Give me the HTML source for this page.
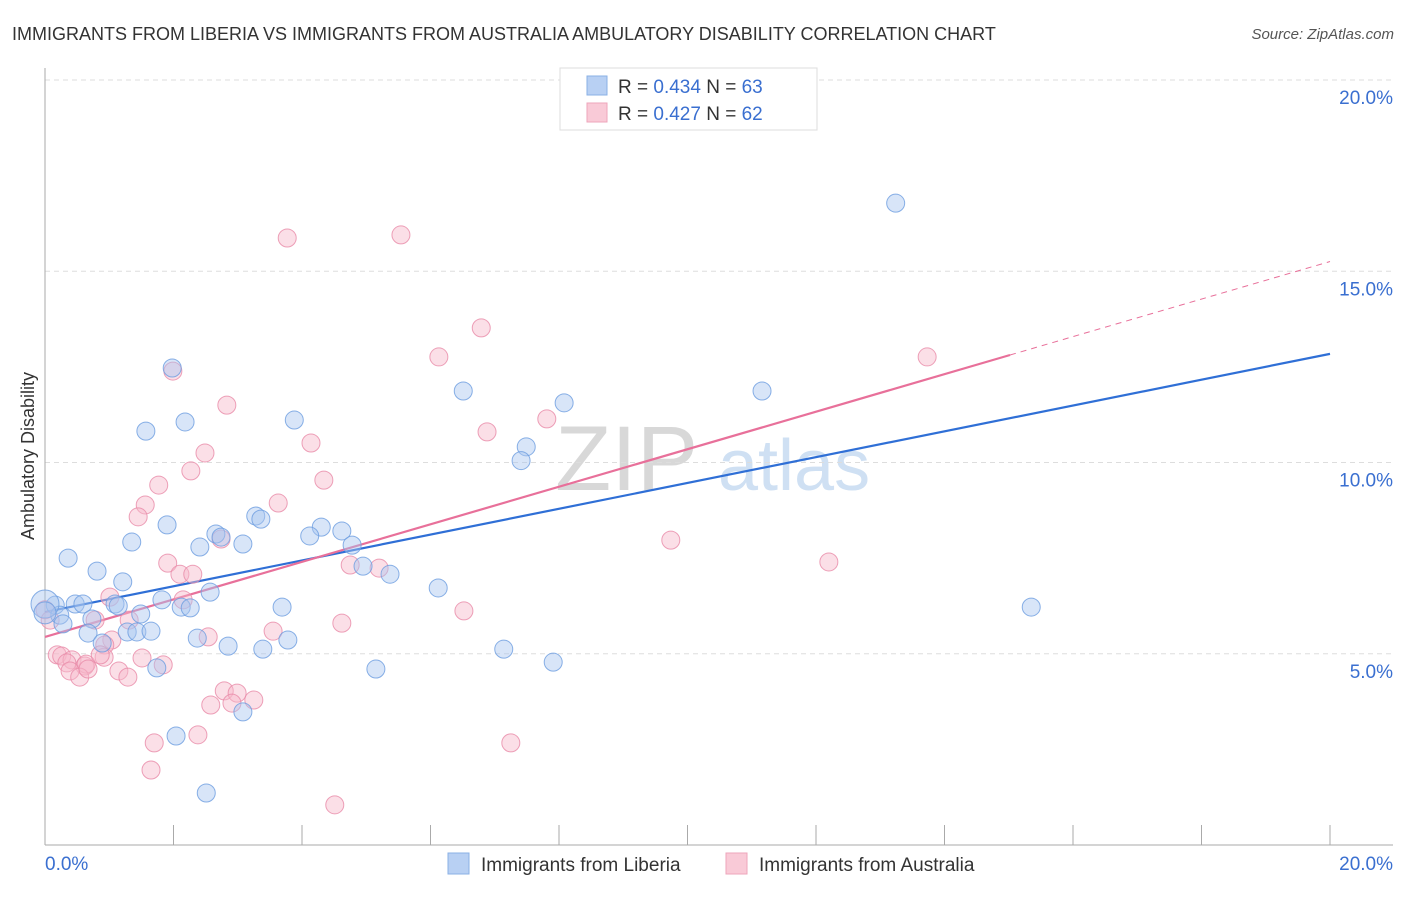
<!DOCTYPE html>
<html><head><meta charset="utf-8"><style>
body{margin:0;background:#fff;font-family:"Liberation Sans",sans-serif;}
svg text{font-family:"Liberation Sans",sans-serif;}
</style></head><body>
<svg id="chart" width="1406" height="892" viewBox="0 0 1406 892" xmlns="http://www.w3.org/2000/svg">
<text x="12" y="40" font-size="18" fill="#333">IMMIGRANTS FROM LIBERIA VS IMMIGRANTS FROM AUSTRALIA AMBULATORY DISABILITY CORRELATION CHART</text>
<text x="1394" y="39" font-size="15" fill="#555" text-anchor="end" font-style="italic">Source: ZipAtlas.com</text>
<g>
<text x="555" y="490" font-size="92" fill="#d8d8d8" font-family="Liberation Serif, serif">ZIP</text>
<text x="718" y="490" font-size="72" fill="#cfe0f3">atlas</text>
</g>
<g id="grid"></g>
<g id="axes"></g>
<g id="lines"></g>
<g id="pts"></g>
<text transform="translate(34,456) rotate(-90)" font-size="18" fill="#333" text-anchor="middle">Ambulatory Disability</text>
<g>
<rect x="560" y="68" width="257" height="62" fill="#fff" stroke="#ddd"/>
<rect x="587" y="76" width="20" height="19" fill="#b8d0f3" stroke="#8ab0e6"/>
<rect x="587" y="103" width="20" height="19" fill="#f9cad7" stroke="#eea5bb"/>
<text x="618" y="93" font-size="19" fill="#333">R = <tspan fill="#3a6fd0">0.434</tspan>   N = <tspan fill="#3a6fd0">63</tspan></text>
<text x="618" y="120" font-size="19" fill="#333">R = <tspan fill="#3a6fd0">0.427</tspan>   N = <tspan fill="#3a6fd0">62</tspan></text>
</g>
<g>
<rect x="448" y="853" width="21" height="21" fill="#b8d0f3" stroke="#8ab0e6"/>
<text x="481" y="871" font-size="19" fill="#333">Immigrants from Liberia</text>
<rect x="726" y="853" width="21" height="21" fill="#f9cad7" stroke="#eea5bb"/>
<text x="759" y="871" font-size="19" fill="#333">Immigrants from Australia</text>
</g>
</svg>
<script>
const yTicks=[5,10,15,20];
const yTickLabels=["5.0%","10.0%","15.0%","20.0%"];
const xTickCount=10;
const blueX=[13.24,1.98,8.08,6.51,11.16,2.18,3.88,1.57,7.49,7.41,3.28,3.36,1.90,4.30,4.62,4.12,2.66,2.74,1.35,2.41,3.08,4.78,0.36,4.95,5.37,0.81,1.21,6.12,2.57,1.82,0.16,0.47,0.59,1.09,1.14,2.12,2.26,3.69,15.35,0.23,1.49,0.28,0.73,0.67,1.28,1.43,1.65,2.37,3.78,2.85,3.39,7.14,7.91,1.74,5.15,3.08,2.04,2.51,0.89,0,0];
const blueY=[16.78,12.47,11.56,11.87,11.87,11.06,11.11,10.82,10.41,10.05,8.60,8.52,8.37,8.31,8.21,8.08,8.13,8.05,7.92,7.79,7.87,7.84,7.50,7.29,7.08,7.16,6.88,6.72,6.61,6.41,6.27,6.30,6.30,6.30,6.25,6.22,6.20,6.22,6.22,6.01,6.04,5.78,5.91,5.54,5.57,5.57,5.59,5.41,5.36,5.20,5.12,5.12,4.78,4.63,4.60,3.48,2.85,1.36,5.28,6.30,6.07];
const blueR=[9,9,9,9,9,9,9,9,9,9,9,9,9,9,9,9,9,9,9,9,9,9,9,9,9,9,9,9,9,9,9,9,9,9,9,9,9,9,9,9,9,9,9,9,9,9,9,9,9,9,9,9,9,9,9,9,9,9,9,14,11];
const pinkX=[3.77,5.54,6.79,6.13,1.99,2.83,7.81,6.88,4.14,2.49,2.27,4.34,1.77,1.56,1.45,3.63,2.74,9.74,12.20,1.91,4.75,5.20,2.10,2.30,1.01,2.15,6.52,0.78,1.31,4.62,3.55,2.54,1.04,0.93,0,0.19,0.26,0.42,0.34,0.62,0.64,0.92,1.51,1.84,1.15,0.39,1.29,0.54,2.79,2.99,2.91,3.25,2.58,2.38,1.70,7.25,1.65,4.51,13.73,0.08,0.67,0.86];
const pinkY=[15.87,15.95,13.52,12.76,12.39,11.50,11.14,10.80,10.51,10.25,9.78,9.54,9.41,8.89,8.58,8.94,8.00,7.97,7.40,7.37,7.32,7.24,7.08,7.08,6.48,6.41,6.12,5.88,5.88,5.80,5.59,5.44,5.36,5.23,6.15,4.97,4.94,4.84,4.76,4.68,4.73,4.91,4.89,4.71,4.55,4.55,4.39,4.39,4.03,3.97,3.71,3.79,3.66,2.88,2.67,2.67,1.96,1.05,12.76,5.88,4.60,4.97];
const trendIntercept=[6.09,5.44];
const trendSlope=[0.3375,0.4907];
const trendSolidEnd=[20,15.02];
const NS="http://www.w3.org/2000/svg";
const X0=45,X1=1330,Y0=845,YT=80;
const xs=v=>X0+v/20*(X1-X0);
const ys=v=>Y0-v/20*(Y0-YT);
function mk(tag,attrs,parent){const e=document.createElementNS(NS,tag);for(const k in attrs)e.setAttribute(k,attrs[k]);parent.appendChild(e);return e;}
const grid=document.getElementById('grid'),axes=document.getElementById('axes');
yTicks.forEach((t,i)=>{
 const l=mk('line',{x1:X0,x2:1393,y1:ys(t),y2:ys(t),stroke:'#ddd','stroke-dasharray':'5,4'},grid);
 
 
 const tx=mk('text',{x:1393,y:ys(t)+24,'font-size':19,fill:'#3a6fd0','text-anchor':'end'},axes);
 tx.textContent=yTickLabels[i];
 
 
});
const yl=mk('line',{x1:X0,x2:X0,y1:68,y2:Y0,stroke:'#aaa'},axes);


const xl=mk('line',{x1:X0,x2:1393,y1:Y0,y2:Y0,stroke:'#aaa'},axes);


for(let i=0;i<=xTickCount;i++){
 const t=mk('line',{x1:xs(i*2),x2:xs(i*2),y1:825,y2:Y0,stroke:'#aaa'},axes);
 
 
}
const xa=mk('text',{x:45,y:870,'font-size':19,fill:'#3a6fd0'},axes);xa.textContent='0.0%';


const xb=mk('text',{x:1393,y:870,'font-size':19,fill:'#3a6fd0','text-anchor':'end'},axes);xb.textContent='20.0%';


const pts=document.getElementById('pts');
function drawSeries(X,Y,R,fill,stroke,name){
 X.forEach((x,i)=>{
  const c=mk('circle',{cx:xs(x),cy:ys(Y[i]),r:R?R[i]:9,fill:fill,'fill-opacity':0.45,stroke:stroke,'stroke-opacity':0.8,'stroke-width':1},pts);
  
  
 });
}
drawSeries(pinkX,pinkY,null,'#f6b8ca','#e98aa7','point-australia');
drawSeries(blueX,blueY,blueR,'#a9c6f0','#6b9ce0','point-liberia');
const lines=document.getElementById('lines');
const colors=['#2f6fd6','#e8709a'];
[0,1].forEach(s=>{
 const a=trendIntercept[s],b=trendSlope[s],e=trendSolidEnd[s];
 const l=mk('line',{x1:xs(0),y1:ys(a),x2:xs(e),y2:ys(a+b*e),stroke:colors[s],'stroke-width':2.2},lines);
 
 
 if(e<20){
  const d=mk('line',{x1:xs(e),y1:ys(a+b*e),x2:xs(20),y2:ys(a+b*20),stroke:colors[s],'stroke-width':1,'stroke-dasharray':'6,5'},lines);
  
  
 }
});
</script>
</body></html>
